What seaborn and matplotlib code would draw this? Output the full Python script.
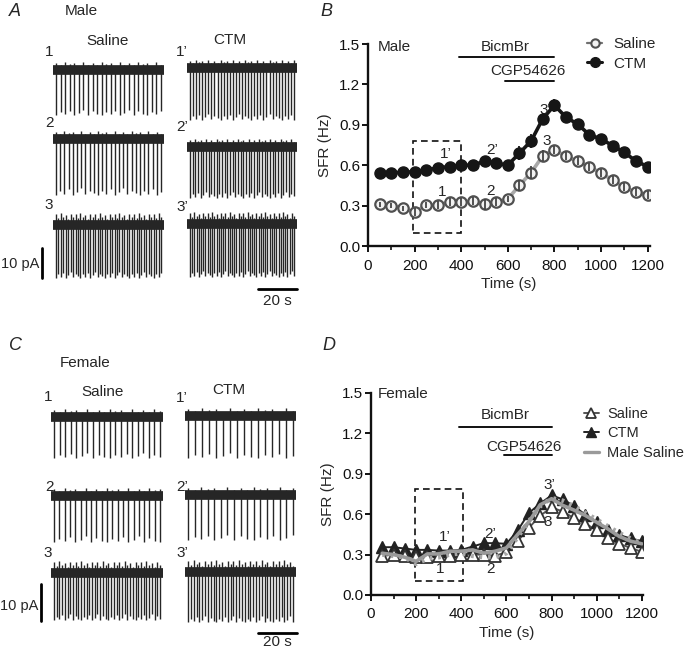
import numpy as np
import pandas as pd
import matplotlib
matplotlib.use("Agg")
import matplotlib.pyplot as plt
import seaborn as sns
from matplotlib.ticker import MultipleLocator
from matplotlib.lines import Line2D
from matplotlib.patches import Rectangle

sns.set_theme(style="ticks")
plt.rcParams["font.family"] = ["Liberation Sans", "DejaVu Sans"]

# ---------------- data ----------------
time_s = [50, 100, 150, 200, 250, 300, 350, 400, 450, 500, 550, 600,
          650, 700, 750, 800, 850, 900, 950, 1000, 1050, 1100, 1150, 1200]
male_saline = [0.31, 0.30, 0.28, 0.25, 0.305, 0.305, 0.325, 0.325, 0.335, 0.31, 0.325, 0.35,
               0.45, 0.545, 0.67, 0.715, 0.665, 0.63, 0.59, 0.54, 0.49, 0.435, 0.40, 0.38]
male_saline_sem = [0.02, 0.02, 0.02, 0.03, 0.02, 0.03, 0.03, 0.03, 0.03, 0.04, 0.03, 0.02,
                   0.04, 0.05, 0.04, 0.03, 0.03, 0.03, 0.03, 0.03, 0.03, 0.03, 0.03, 0.03]
male_ctm = [0.545, 0.54, 0.55, 0.55, 0.565, 0.58, 0.59, 0.60, 0.60, 0.63, 0.615, 0.60,
            0.69, 0.78, 0.945, 1.045, 0.955, 0.905, 0.825, 0.795, 0.745, 0.695, 0.63, 0.59]
male_ctm_sem = [0.02, 0.02, 0.02, 0.02, 0.02, 0.02, 0.02, 0.02, 0.02, 0.02, 0.02, 0.02,
                0.05, 0.05, 0.04, 0.05, 0.04, 0.04, 0.03, 0.03, 0.03, 0.03, 0.03, 0.03]
female_saline = [0.29, 0.30, 0.29, 0.28, 0.28, 0.29, 0.29, 0.30, 0.30, 0.30, 0.29, 0.32,
                 0.40, 0.50, 0.59, 0.65, 0.62, 0.57, 0.53, 0.48, 0.42, 0.38, 0.35, 0.32]
female_ctm = [0.355, 0.355, 0.345, 0.335, 0.335, 0.33, 0.33, 0.335, 0.36, 0.385, 0.385, 0.38,
              0.48, 0.61, 0.68, 0.74, 0.71, 0.66, 0.595, 0.545, 0.48, 0.445, 0.42, 0.40]
female_dotted = [0.30, 0.29, 0.28, 0.23, 0.27, 0.28, 0.30, 0.31, 0.29, 0.28, 0.28, 0.31,
                 0.43, 0.55, 0.66, 0.72, 0.70, 0.66, 0.61, 0.56, 0.51, 0.46, 0.42, 0.38]

male_saline_spikes = [24, 26, 44]
male_ctm_spikes = [35, 40, 48]
female_saline_spikes = [20, 21, 40]
female_ctm_spikes = [16, 17, 38]
row_labels_saline = ["1", "2", "3"]
row_labels_ctm = ["1\u2019", "2\u2019", "3\u2019"]

# ---------------- figure ----------------
W, H = 687, 652
fig = plt.figure(figsize=(W / 100, H / 100), dpi=100)
bg = fig.add_axes([0, 0, 1, 1])
bg.set_xlim(0, W)
bg.set_ylim(H, 0)
bg.axis("off")

TC = "#262626"
FS = 11
depth_pattern = [1.0, 0.93, 0.98, 0.9, 1.0, 0.95, 0.88, 0.99, 0.92, 0.97]
up_pattern = [0.9, 0.6, 1.0, 0.7, 0.85, 0.5, 0.95, 0.65]


def draw_trace(x0, x1, base, depth, n, up):
    xs = np.linspace(x0 + 3, x1 - 3, n)
    d = np.array([depth * depth_pattern[i % len(depth_pattern)] for i in range(n)])
    u = np.array([up * up_pattern[i % len(up_pattern)] for i in range(n)])
    bg.vlines(xs, base, base + d, color=TC, lw=1.0)
    bg.vlines(xs, base, base - u, color=TC, lw=1.0)
    bg.plot([x0, x1], [base, base], color=TC, lw=7, solid_capstyle="butt")


def trace_panel(letter, letter_xy, sex, sex_xy, sal_xy, ctm_xy,
                sal_x, ctm_x, sal_base, ctm_base, sal_depth, ctm_depth,
                sal_n, ctm_n, sal_lab, ctm_lab, pa_bar, pa_text_y, s_bar_y, s_text_y):
    bg.text(*letter_xy, letter, fontsize=13, style="italic", ha="center", va="center")
    bg.text(*sex_xy, sex, fontsize=FS, ha="center", va="center")
    bg.text(*sal_xy, "Saline", fontsize=FS, ha="center", va="center")
    bg.text(*ctm_xy, "CTM", fontsize=FS, ha="center", va="center")
    for i in range(3):
        ups = 8 if i < 2 else 12
        draw_trace(sal_x[0], sal_x[1], sal_base[i], sal_depth[i], sal_n[i], ups)
        draw_trace(ctm_x[0], ctm_x[1], ctm_base[i], ctm_depth[i], ctm_n[i], ups)
        bg.text(*sal_lab[i], row_labels_saline[i], fontsize=FS, ha="center", va="center")
        bg.text(*ctm_lab[i], row_labels_ctm[i], fontsize=FS, ha="center", va="center")
    bg.plot([pa_bar[0], pa_bar[0]], [pa_bar[1], pa_bar[2]], color="black", lw=2)
    bg.text(pa_bar[0] - 2.5, pa_text_y, "10 pA", fontsize=10.5, ha="right", va="center")
    bg.plot([258, 297], [s_bar_y, s_bar_y], color="black", lw=2)
    bg.text(277, s_text_y, "20 s", fontsize=FS, ha="center", va="center")


trace_panel("A", (15, 12), "Male", (81, 11), (108, 41), (230, 40),
            (53, 164), (187, 297), [70, 139, 225], [68, 147, 224],
            [45, 56, 53], [52, 51, 53],
            male_saline_spikes, male_ctm_spikes,
            [(49, 52), (50, 123), (49, 205)], [(182, 52), (182, 127), (182, 207)],
            (42, 248, 278), 264, 289, 301)

trace_panel("C", (15, 346), "Female", (85, 363), (103, 392), (229, 390),
            (51, 163), (185, 296), [417, 496, 573], [416, 495, 572],
            [41, 46, 47], [42, 45, 50],
            female_saline_spikes, female_ctm_spikes,
            [(48, 397), (50, 487), (48, 553)], [(182, 398), (182, 487), (182, 553)],
            (41, 584, 621), 606, 633, 642)

bg.text(326, 12, "B", fontsize=13, style="italic", ha="center", va="center")
bg.text(329, 346, "D", fontsize=13, style="italic", ha="center", va="center")


def style_axes(ax, xmax):
    ax.set_xlim(0, xmax)
    ax.set_ylim(0, 1.5)
    ax.set_xticks(range(0, 1201, 200))
    ax.xaxis.set_minor_locator(MultipleLocator(100))
    ax.set_yticks([0.0, 0.3, 0.6, 0.9, 1.2, 1.5])
    ax.set_yticklabels(["0.0", "0.3", "0.6", "0.9", "1.2", "1.5"])
    for s in ["top", "right"]:
        ax.spines[s].set_visible(False)
    for s in ["left", "bottom"]:
        ax.spines[s].set_linewidth(1.7)
        ax.spines[s].set_color("#111111")
    ax.tick_params(which="major", direction="out", length=4, width=1.4,
                   labelsize=FS, colors="#111111")
    ax.tick_params(which="minor", direction="out", length=3, width=1.2, colors="#111111")
    ax.tick_params(axis="x", which="major", pad=5)
    ax.tick_params(axis="y", which="major", pad=1.5)
    ax.set_xlabel("Time (s)", fontsize=FS, labelpad=3)
    ax.set_ylabel("SFR (Hz)", fontsize=FS, labelpad=5)
    ax.set_facecolor("none")


def drug_bars(ax, bic, cgp):
    ax.plot([bic[0], bic[1]], [bic[2], bic[2]], color="#111111", lw=1.4)
    ax.text((bic[3]), bic[4], "BicmBr", fontsize=FS, ha="center", va="center")
    ax.plot([cgp[0], cgp[1]], [cgp[2], cgp[2]], color="#111111", lw=1.4)
    ax.text(cgp[3], cgp[4], "CGP54626", fontsize=FS, ha="center", va="center")


# ---------------- panel B ----------------
axB = fig.add_axes([368 / W, 1 - 246 / H, (650 - 368) / W, (246 - 44) / H])
dfB = pd.DataFrame({"t": time_s, "saline": male_saline, "ctm": male_ctm})
sns.lineplot(data=dfB, x="t", y="saline", ax=axB, color="#a8a8a8", lw=2.6, zorder=2)
sns.lineplot(data=dfB, x="t", y="ctm", ax=axB, color="#161616", lw=2.6, zorder=2)
axB.plot(time_s, male_saline, ls="none", marker="o", ms=7.5, mfc="#f2f2f2",
         mec="#505050", mew=1.6, zorder=3)
axB.errorbar(time_s, male_saline, yerr=male_saline_sem, fmt="none", ecolor="#444444",
             elinewidth=1.3, capsize=0, zorder=4)
axB.errorbar(time_s, male_ctm, yerr=male_ctm_sem, fmt="none", ecolor="#161616",
             elinewidth=1.3, capsize=0, zorder=3)
axB.plot(time_s, male_ctm, ls="none", marker="o", ms=8, mfc="#161616", mec="#161616", zorder=4)
style_axes(axB, 1210)
axB.add_patch(Rectangle((195, 0.10), 205, 0.68, fill=False, ls=(0, (4, 2.5)),
                        lw=1.2, ec="#111111", zorder=1))
drug_bars(axB, (389, 800, 1.40, 590, 1.475), (589, 800, 1.228, 686, 1.30))
axB.text(40, 1.475, "Male", fontsize=FS, ha="left", va="center")
for lab, (x, y) in {"1\u2019": (334, 0.68), "2\u2019": (531, 0.715), "3\u2019": (763, 1.01),
                    "1": (317, 0.40), "2": (524, 0.41), "3": (767, 0.78)}.items():
    axB.text(x, y, lab, fontsize=FS, ha="center", va="center")
hB = [Line2D([], [], color="#707070", lw=1.6, marker="o", ms=6, mfc="#f2f2f2",
             mec="#505050", mew=1.5),
      Line2D([], [], color="#161616", lw=2.2, marker="o", ms=7, mfc="#161616")]
axB.legend(hB, ["Saline", "CTM"], loc="upper left", bbox_to_anchor=(587 / W, 1 - 37 / H),
           bbox_transform=fig.transFigure, frameon=False, fontsize=FS, handlelength=1.0,
           handletextpad=0.75, labelspacing=0.37, borderpad=0, borderaxespad=0)

# ---------------- panel D ----------------
axD = fig.add_axes([371 / W, 1 - 595 / H, (643 - 371) / W, (595 - 393) / H])
dfD = pd.DataFrame({"t": time_s, "fs": female_saline, "fc": female_ctm,
                    "ms": male_saline, "dot": female_dotted})
sns.lineplot(data=dfD, x="t", y="fs", ax=axD, color="#555555", lw=1.4, zorder=2)
sns.lineplot(data=dfD, x="t", y="fc", ax=axD, color="#222222", lw=1.4, zorder=2)
axD.plot(time_s, female_ctm, ls="none", marker="^", ms=8.5, mfc="#222222", mec="#222222", zorder=3)
axD.plot(time_s, female_saline, ls="none", marker="^", ms=8.5, mfc="white",
         mec="#333333", mew=1.3, zorder=3)
sns.lineplot(data=dfD, x="t", y="dot", ax=axD, color="#a8a8a8", lw=3.2,
             linestyle=(0, (0.6, 1.3)), zorder=4)
sns.lineplot(data=dfD, x="t", y="ms", ax=axD, color="#9a9a9a", lw=2.6, zorder=5)
style_axes(axD, 1205)
axD.add_patch(Rectangle((196, 0.107), 211, 0.683, fill=False, ls=(0, (4, 2.5)),
                        lw=1.2, ec="#111111", zorder=1))
drug_bars(axD, (388, 801, 1.245, 595, 1.335), (587, 801, 1.037, 676, 1.10))
axD.text(28, 1.49, "Female", fontsize=FS, ha="left", va="center")
for lab, (x, y) in {"1\u2019": (326, 0.43), "2\u2019": (528, 0.45), "3\u2019": (791, 0.82),
                    "1": (307, 0.19), "2": (528, 0.19), "3": (784, 0.545)}.items():
    axD.text(x, y, lab, fontsize=FS, ha="center", va="center", zorder=6)
hD = [Line2D([], [], color="#555555", lw=1.4, marker="^", ms=7, mfc="white", mec="#333333", mew=1.3),
      Line2D([], [], color="#222222", lw=1.4, marker="^", ms=7.5, mfc="#222222"),
      Line2D([], [], color="#9a9a9a", lw=2.4)]
axD.legend(hD, ["Saline", "CTM", "Male Saline"], loc="upper left",
           bbox_to_anchor=(584 / W, 1 - 407 / H), bbox_transform=fig.transFigure,
           frameon=False, fontsize=10.5, handlelength=1.0, handletextpad=0.6,
           labelspacing=0.37, borderpad=0, borderaxespad=0)

fig.savefig("out.png", dpi=100)
